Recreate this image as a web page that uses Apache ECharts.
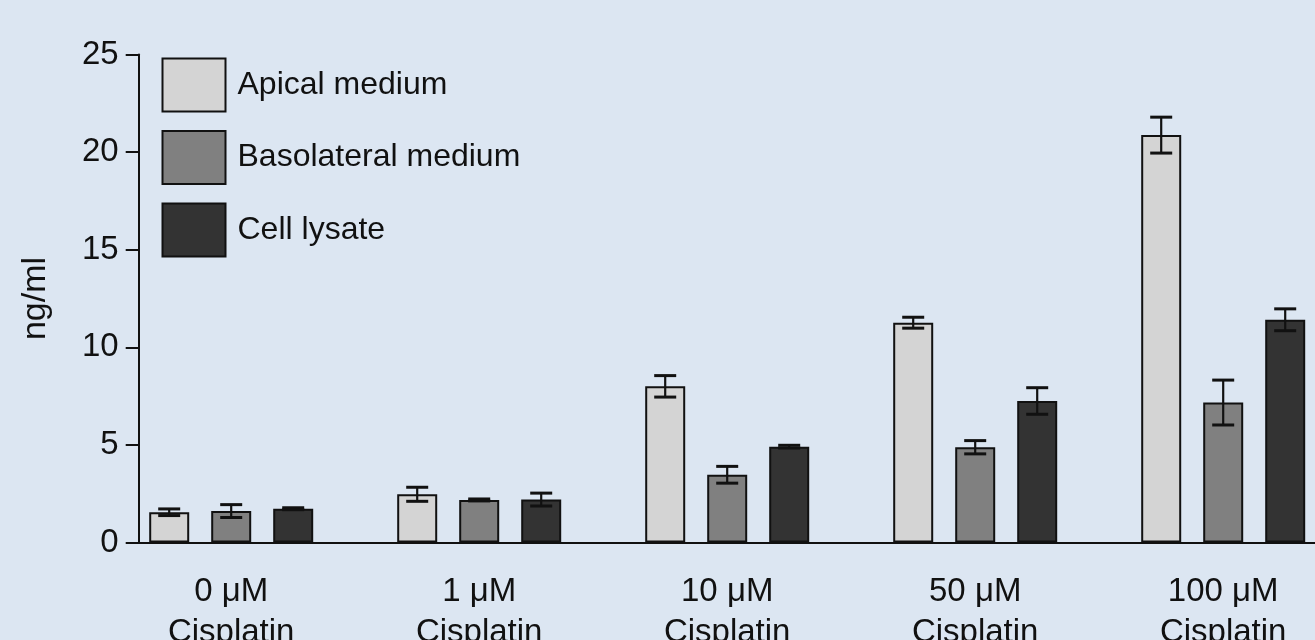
<!DOCTYPE html>
<html>
<head>
<meta charset="utf-8">
<script src="https://cdn.jsdelivr.net/npm/echarts@6/dist/echarts.min.js"></script>
<style>
  html, body { margin: 0; padding: 0; background: #dce6f2; }
  #chart { width: 1315px; height: 640px; }
</style>
</head>
<body>
<div id="chart"></div>
<script>
// Cisplatin concentration groups
const categories = ['0 μM\nCisplatin', '1 μM\nCisplatin', '10 μM\nCisplatin', '50 μM\nCisplatin', '100 μM\nCisplatin'];
const seriesNames = ['Apical medium', 'Basolateral medium', 'Cell lysate'];

// Mean concentrations (ng/ml)
const apicalMean = [1.55, 2.47, 8.0, 11.26, 20.87];
const basolateralMean = [1.61, 2.18, 3.47, 4.88, 7.17];
const lysateMean = [1.73, 2.2, 4.91, 7.25, 11.41];

// Error (± SEM)
const apicalErr = [0.17, 0.36, 0.55, 0.28, 0.92];
const basolateralErr = [0.33, 0.05, 0.43, 0.34, 1.15];
const lysateErr = [0.05, 0.33, 0.07, 0.68, 0.56];

const yTicks = [0, 5, 10, 15, 20, 25];

const fills = ['#d4d4d4', '#808080', '#333333'];
const FONT = 'Liberation Sans, Arial, sans-serif';
const BAR_W = 40;
const BAR_GAP = 22;

const means = [apicalMean, basolateralMean, lysateMean];
const errs = [apicalErr, basolateralErr, lysateErr];

const chart = echarts.init(document.getElementById('chart'), null, { renderer: 'canvas' });

function barSeries(k) {
  return {
    name: seriesNames[k],
    type: 'bar',
    xAxisIndex: 0,
    yAxisIndex: 0,
    barWidth: BAR_W,
    barGap: (BAR_GAP / BAR_W * 100) + '%',
    data: means[k],
    itemStyle: { color: fills[k], borderColor: '#111', borderWidth: 2 },
    z: 2
  };
}

function errorSeries(k) {
  const data = means[k].map((m, i) => [i, m - errs[k][i], m + errs[k][i]]);
  const offset = (k - 1) * (BAR_W + BAR_GAP);
  return {
    type: 'custom',
    xAxisIndex: 0,
    yAxisIndex: 0,
    data: data,
    z: 5,
    silent: true,
    renderItem: function (params, api) {
      const lo = api.coord([api.value(0), api.value(1)]);
      const hi = api.coord([api.value(0), api.value(2)]);
      const x = lo[0] + offset;
      const half = 11;
      const cap = { stroke: '#111', lineWidth: 3 };
      return {
        type: 'group',
        children: [
          { type: 'line', shape: { x1: x, y1: lo[1], x2: x, y2: hi[1] }, style: { stroke: '#111', lineWidth: 2.2 } },
          { type: 'line', shape: { x1: x - half, y1: hi[1], x2: x + half, y2: hi[1] }, style: cap },
          { type: 'line', shape: { x1: x - half, y1: lo[1], x2: x + half, y2: lo[1] }, style: cap }
        ]
      };
    }
  };
}

const option = {
  backgroundColor: '#dce6f2',
  animation: false,
  textStyle: { fontFamily: FONT, color: '#111' },
  legend: {
    data: seriesNames,
    orient: 'vertical',
    left: 161.5,
    top: 57.5,
    padding: 0,
    itemWidth: 63,
    itemHeight: 53,
    itemGap: 17.5,
    icon: 'rect',
    selectedMode: false,
    itemStyle: { borderColor: '#111', borderWidth: 2 },
    textStyle: { fontSize: 32, color: '#111', fontFamily: FONT, padding: [0, 0, 0, 7] }
  },
  grid: [
    { left: 107.2, right: -32.2, top: 54.5, bottom: 97.5, containLabel: false, outerBoundsMode: 'none' },
    { left: 138.7, right: 0, top: 54.5, bottom: 97.5, containLabel: false, outerBoundsMode: 'none' }
  ],
  xAxis: [
    {
      type: 'category',
      gridIndex: 0,
      data: categories,
      axisLine: { show: false },
      axisTick: { show: false },
      axisLabel: {
        interval: 0,
        fontSize: 33,
        lineHeight: 41,
        margin: 29,
        color: '#111',
        fontFamily: FONT
      }
    },
    {
      type: 'value',
      gridIndex: 1,
      min: 0,
      max: 1,
      axisLine: { show: true, lineStyle: { color: '#111', width: 2 } },
      axisTick: { show: false },
      axisLabel: { show: false },
      splitLine: { show: false }
    }
  ],
  yAxis: [
    {
      type: 'value',
      gridIndex: 0,
      min: yTicks[0],
      max: yTicks[yTicks.length - 1],
      interval: yTicks[1] - yTicks[0],
      offset: -31.5,
      name: 'ng/ml',
      nameLocation: 'middle',
      nameGap: 86,
      nameRotate: 90,
      nameTextStyle: { fontSize: 34, color: '#111', fontFamily: FONT },
      axisLine: { show: true, lineStyle: { color: '#111', width: 2 } },
      axisTick: { show: true, length: 13, lineStyle: { color: '#111', width: 2 } },
      axisLabel: { fontSize: 33, margin: 20, color: '#111', fontFamily: FONT },
      splitLine: { show: false }
    },
    {
      type: 'value',
      gridIndex: 1,
      min: 0,
      max: 25,
      show: false
    }
  ],
  series: [
    barSeries(0), barSeries(1), barSeries(2),
    errorSeries(0), errorSeries(1), errorSeries(2)
  ]
};

chart.setOption(option);
</script>
</body>
</html>
